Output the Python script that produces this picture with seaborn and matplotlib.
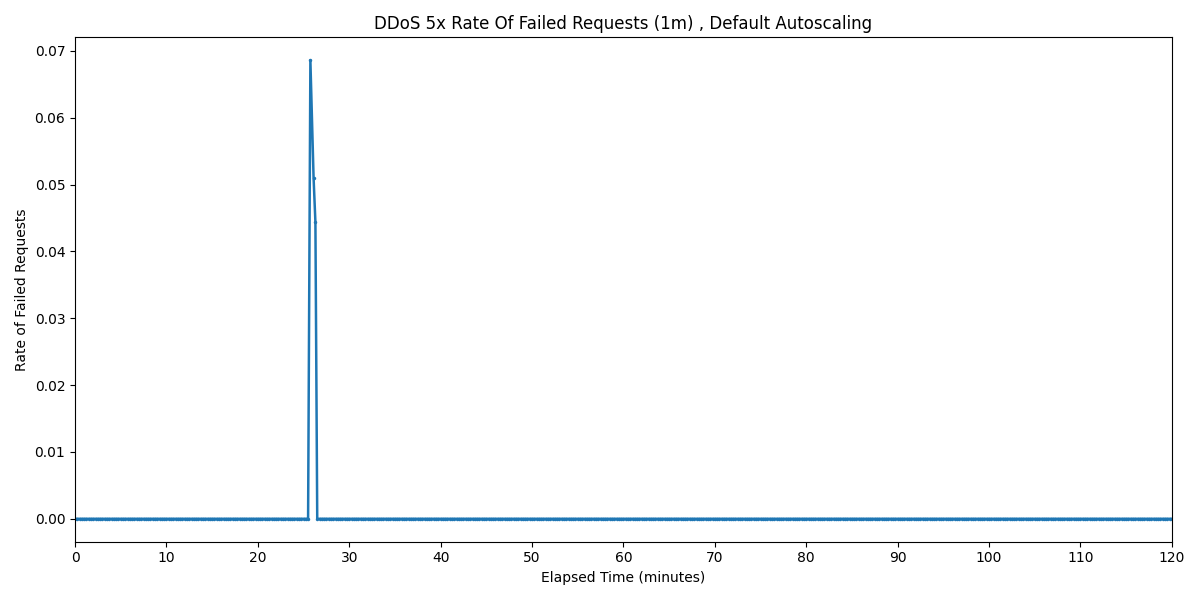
import numpy as np
import pandas as pd
import seaborn as sb
from matplotlib import pyplot as plt

# sampling every 15 s over two hours, failed-request rate is zero except the spike
sample_step_min = 0.25
duration_min = 120
spike_times = [25.75, 26.1, 26.3]
spike_rates = [0.0686, 0.0510, 0.0444]

elapsed = list(np.arange(0, duration_min + sample_step_min, sample_step_min))
rates = [0.0] * len(elapsed)
for t, r in zip(spike_times, spike_rates):
    elapsed.append(t)
    rates.append(r)

df = pd.DataFrame({'elapsed': elapsed, 'rate': rates})
# drop the grid points that fall inside the spike window
df = df[~((df['elapsed'] > 25.5) & (df['elapsed'] < 26.45) & (df['rate'] == 0))]
df = df.sort_values('elapsed').reset_index(drop=True)

plt.figure(figsize=(12, 6), dpi=100)
ax = sb.lineplot(data=df, x='elapsed', y='rate', marker='o', markersize=2.5,
                 markeredgewidth=0, linewidth=1.8, color='#1f77b4')
ax.set_title('DDoS 5x Rate Of Failed Requests (1m) , Default Autoscaling')
ax.set_xlabel('Elapsed Time (minutes)')
ax.set_ylabel('Rate of Failed Requests')
ax.set_xlim(0, 120)
ax.set_xticks(range(0, 121, 10))
plt.tight_layout()
plt.savefig('out.png')
